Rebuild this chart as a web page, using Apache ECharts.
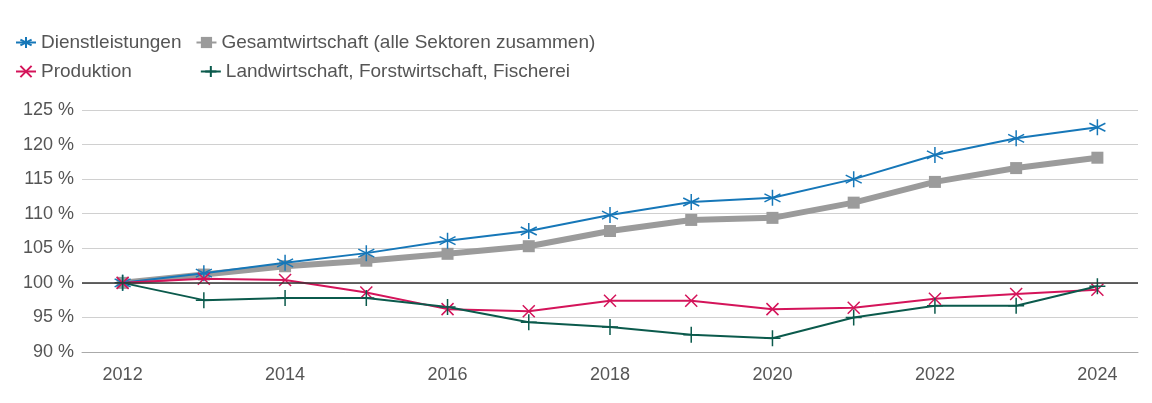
<!DOCTYPE html>
<html><head><meta charset="utf-8">
<script src="https://cdn.jsdelivr.net/npm/echarts@6/dist/echarts.min.js"></script>
<style>html,body{margin:0;padding:0;background:#fff}#c{width:1152px;height:403px}</style>
</head><body><div id="c"></div>
<script>
var years = ['2012','2013','2014','2015','2016','2017','2018','2019','2020','2021','2022','2023','2024'];
var dienst = [100,101.4,102.9,104.3,106.1,107.5,109.8,111.7,112.3,115.0,118.5,120.9,122.5];
var gesamt = [100,101.2,102.4,103.2,104.2,105.3,107.5,109.1,109.4,111.6,114.6,116.6,118.1];
var prod = [100,100.6,100.4,98.6,96.2,95.9,97.4,97.4,96.2,96.4,97.7,98.4,99.0];
var land = [100,97.5,97.8,97.8,96.5,94.3,93.6,92.5,92.0,95.0,96.7,96.7,99.5];

var star = 'path://M0,-10L0,10M-8.7,-5L8.7,5M-8.7,5L8.7,-5';
var cross = 'path://M-7,-7L7,7M-7,7L7,-7';
var plus = 'path://M0,-10L0,10M-6,0L6,0';

function ser(name, data, color, width, symbol, size, fill){
  return {name:name, type:'line', data:data, symbol:symbol, symbolSize:size,
    showSymbol:true,
    lineStyle:{color:color, width:width},
    itemStyle:{color: fill ? color : 'none', borderColor:color, borderWidth: fill?0:1.5},
    z: fill?2:3};
}
var chart = echarts.init(document.getElementById('c'));
chart.setOption({
  animation:false,
  textStyle:{fontFamily:'Liberation Sans, Arial'},
  legend:[
    {left:10, top:28, itemGap:14, itemWidth:20, itemHeight:14, icon:null,
     textStyle:{fontSize:19, color:'#555'}, data:['Dienstleistungen','Gesamtwirtschaft (alle Sektoren zusammen)']},
    {left:10, top:57, itemGap:68, itemWidth:20, itemHeight:14,
     textStyle:{fontSize:19, color:'#555'}, data:['Produktion','Landwirtschaft, Forstwirtschaft, Fischerei']}
  ],
  grid:{left:82, right:14, top:110, bottom:51},
  xAxis:{type:'category', data:years, boundaryGap:['5%','5%'],
    axisLine:{lineStyle:{color:'#aaa'}}, axisTick:{show:false},
    axisLabel:{fontSize:18, color:'#555', margin:14, interval:1}},
  yAxis:{type:'value', min:90, max:125, interval:5,
    axisLabel:{fontSize:18, color:'#555', formatter:'{value} %'},
    splitLine:{lineStyle:{color:'#d0d0d0'}}, axisLine:{show:false}},
  series:[
    ser('Dienstleistungen', dienst, '#1677b8', 2, star, 16, false),
    Object.assign(ser('Gesamtwirtschaft (alle Sektoren zusammen)', gesamt, '#9b9b9b', 6, 'rect', 12, true),
      {markLine:{silent:true, symbol:'none', label:{show:false}, lineStyle:{color:'#333', width:1.5, type:'solid'}, data:[{yAxis:100}]}}),
    ser('Produktion', prod, '#d4145a', 2, cross, 12, false),
    ser('Landwirtschaft, Forstwirtschaft, Fischerei', land, '#0b5a4c', 2, plus, 16, false)
  ]
});
</script></body></html>
